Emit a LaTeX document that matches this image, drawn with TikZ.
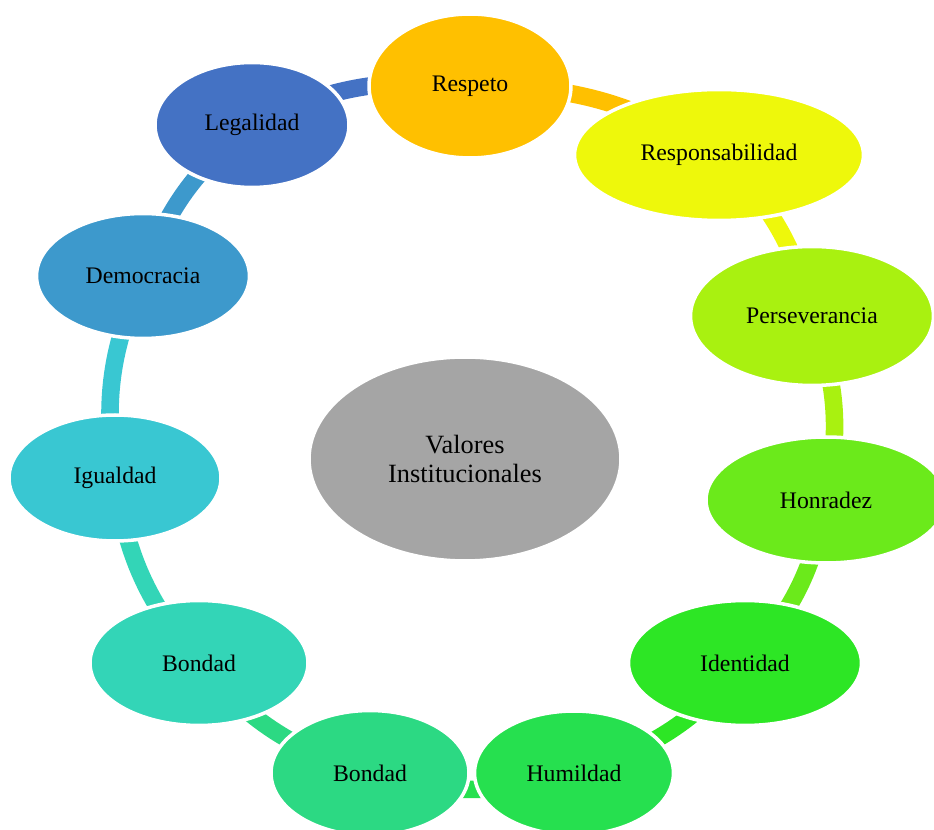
\documentclass[tikz,border=0pt]{standalone}
\usepackage{fontspec}
\setmainfont{Liberation Serif}
\usepackage{tikz}
\usetikzlibrary{shapes.geometric,backgrounds}
\definecolor{cRespeto}{HTML}{FFC000}
\definecolor{cResp}{HTML}{EEF80B}
\definecolor{cPerse}{HTML}{A9F110}
\definecolor{cHonra}{HTML}{6BEA1B}
\definecolor{cIdent}{HTML}{2DE625}
\definecolor{cHumil}{HTML}{26E04F}
\definecolor{cBondadB}{HTML}{2CD983}
\definecolor{cBondadI}{HTML}{33D5B7}
\definecolor{cIgual}{HTML}{39C7D2}
\definecolor{cDemoc}{HTML}{3D99CC}
\definecolor{cLegal}{HTML}{4472C4}
\definecolor{cCentro}{HTML}{A5A5A5}
\tikzset{
  valor/.style={ellipse, draw=white, line width=2pt, inner sep=0pt, align=center,
                font=\fontsize{13.5}{16}\selectfont},
  enlace/.style={line width=10pt}
}

\begin{document}
\begin{tikzpicture}[x=0.02cm, y=-0.02cm]
         \useasboundingbox (0,0) rectangle (934,830);
         \node[valor, fill=cCentro, minimum width=6.24cm, minimum height=4.08cm,
               font=\fontsize{15}{16.5}\selectfont] (centro) at (465,459) {Valores\\Institucionales};
         \node[valor, fill=cRespeto, minimum width=4.04cm, minimum height=2.88cm] (respeto) at (470,86) {Respeto};
         \node[valor, fill=cResp, minimum width=5.78cm, minimum height=2.62cm] (resp) at (719,155) {Responsabilidad};
         \node[valor, fill=cPerse, minimum width=4.86cm, minimum height=2.78cm] (perse) at (812,316) {Perseverancia};
         \node[valor, fill=cHonra, minimum width=4.8cm, minimum height=2.52cm] (honra) at (826,500) {Honradez};
         \node[valor, fill=cIdent, minimum width=4.66cm, minimum height=2.5cm] (ident) at (745,663) {Identidad};
         \node[valor, fill=cHumil, minimum width=3.98cm, minimum height=2.48cm] (humil) at (574,773) {Humildad};
         \node[valor, fill=cBondadB, minimum width=3.96cm, minimum height=2.5cm] (bondadb) at (370,773) {Bondad};
         \node[valor, fill=cBondadI, minimum width=4.36cm, minimum height=2.5cm] (bondadi) at (199,663) {Bondad};
         \node[valor, fill=cIgual, minimum width=4.24cm, minimum height=2.52cm] (igual) at (115,478) {Igualdad};
         \node[valor, fill=cDemoc, minimum width=4.26cm, minimum height=2.5cm] (democ) at (143,276) {Democracia};
         \node[valor, fill=cLegal, minimum width=3.88cm, minimum height=2.5cm] (legal) at (252,125) {Legalidad};
         % the ring, each piece in the colour of the node it leaves
         \begin{scope}[on background layer]
         \draw[enlace, cRespeto] (respeto.center) to[bend left=16] (resp.center);
         \draw[enlace, cResp] (resp.center) to[bend left=16] (perse.center);
         \draw[enlace, cPerse] (perse.center) to[bend left=16] (honra.center);
         \draw[enlace, cHonra] (honra.center) to[bend left=16] (ident.center);
         \draw[enlace, cIdent] (ident.center) to[bend left=16] (humil.center);
         \draw[enlace, cHumil] (humil.center) to[bend left=16] (bondadb.center);
         \draw[enlace, cBondadB] (bondadb.center) to[bend left=16] (bondadi.center);
         \draw[enlace, cBondadI] (bondadi.center) to[bend left=16] (igual.center);
         \draw[enlace, cIgual] (igual.center) to[bend left=16] (democ.center);
         \draw[enlace, cDemoc] (democ.center) to[bend left=16] (legal.center);
         \draw[enlace, cLegal] (legal.center) to[bend left=16] (respeto.center);
         \end{scope}
\end{tikzpicture}
\end{document}
